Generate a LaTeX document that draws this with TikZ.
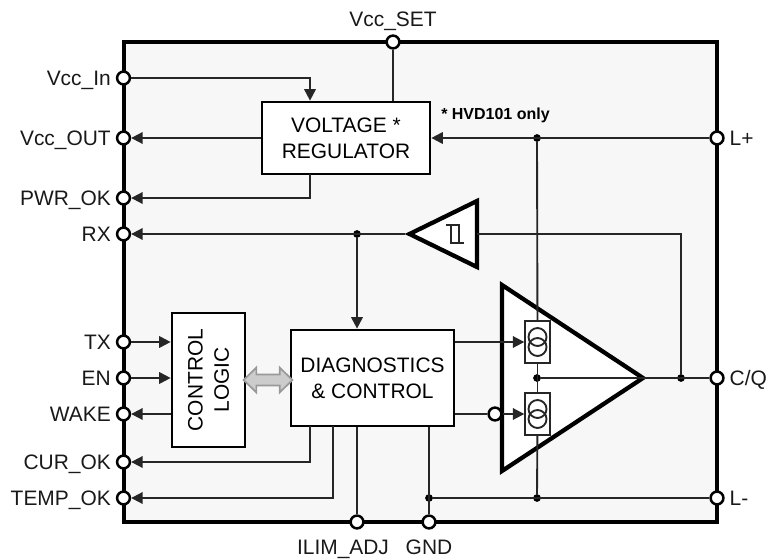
\documentclass[tikz,border=0pt]{standalone}
\usepackage{fontspec}
\setmainfont{Liberation Sans}
\usetikzlibrary{arrows.meta,positioning}
\tikzset{
    >={Triangle[length=8.6pt,width=8.6pt]},
    chipbox/.style={draw=black, fill=chipgray, line width=3pt, line join=miter},
    wire/.style={draw=black!85, line width=1.4pt},
    blockbox/.style={draw=black, fill=white, line width=2pt, inner sep=0pt, align=center, font=\blockfont},
    tribox/.style={draw=black, fill=white, line width=3.2pt, line join=miter},
    pinring/.style={circle, draw=black, fill=white, line width=1.9pt, minimum size=9.6pt, inner sep=0pt},
    pinlabel/.style={inner sep=0pt, text height=11.3pt, text depth=0pt, font=\blockfont, text=black!90},
    dotnode/.style={circle, fill=black, minimum size=5.8pt, inner sep=0pt},
    srcbox/.style={draw=black!85, fill=white, line width=1.4pt, minimum width=18.4pt, minimum height=31.5pt, inner sep=0pt},
    srcline/.style={draw=black!85, line width=1.4pt},
    bidir/.style={draw=midgray, fill=lightblockgray, line width=1.3pt, line join=miter},
}
\definecolor{chipgray}{HTML}{F7F7F7}
\definecolor{midgray}{HTML}{999999}
\definecolor{lightblockgray}{HTML}{CCCCCC}
\newcommand{\blockfont}{\fontsize{15.7}{19}\selectfont}
\begin{document}
\begin{tikzpicture}[x=0.75pt,y=-0.75pt]
    \useasboundingbox (0,0) rectangle (777,559);

    % CHIP OUTLINE
    \draw[chipbox] (123.5,42) rectangle (717,522);

    % TRIANGLES
    \draw[tribox] (502,285) -- (643,378) -- (502,471) -- cycle;
    \draw[tribox] (409.5,234) -- (477,201) -- (477,267) -- cycle;

    % PINS ON THE LEFT
    \foreach \pinname/\pinpos/\pintext in {vccin/78/Vcc\_In, vccout/138/Vcc\_OUT, pwrok/198/PWR\_OK, rx/234/RX, tx/342/TX, en/378/EN, wake/414/WAKE, curok/462/CUR\_OK, tempok/498/TEMP\_OK} {
    \node[pinring] (\pinname) at (123.5,\pinpos) {};
    \node[pinlabel, left=3.6pt of \pinname] (\pinname label) {\pintext};
    }

    % PINS ON THE RIGHT
    \foreach \pinname/\pinpos/\pintext in {lplus/138/L+, cq/378/{C/Q}, lminus/498/L-} {
    \node[pinring] (\pinname) at (717,\pinpos) {};
    \node[pinlabel, right=3.6pt of \pinname] (\pinname label) {\pintext};
    }

    % PINS ON TOP AND BOTTOM
    \node[pinring] (vccset) at (393,42) {};
    \node[pinlabel, above=6pt of vccset] (vccsetlabel) {Vcc\_SET};
    \node[pinring] (ilim) at (357,522) {};
    \node[pinlabel, below=7pt of ilim, xshift=-10.5pt] (ilimlabel) {ILIM\_ADJ};
    \node[pinring] (gnd) at (429,522) {};
    \node[pinlabel, below=7pt of gnd] (gndlabel) {GND};

    % BLOCKS
    \node[blockbox, minimum width=126pt, minimum height=54pt] (reg) at (346,138) {VOLTAGE *\\[0.6pt]REGULATOR};
    \node[blockbox, minimum width=122.25pt, minimum height=72pt] (diag) at (372.5,378) {DIAGNOSTICS\\[0.6pt]\& CONTROL};
    \node[blockbox, minimum width=54.75pt, minimum height=100.5pt] (logic) at (208.5,380) {};
    \node[rotate=90, align=center, inner sep=0pt, font=\blockfont] (logiclabel) at (logic) {CONTROL\\[0.6pt]LOGIC};
    \node[font=\fontsize{12}{14}\selectfont\bfseries, anchor=west, inner sep=0pt] (hvdnote) at (441,115) {* HVD101 only};

    % CURRENT SOURCES
    \node[srcbox] (srctop) at (537.5,342) {};
    \node[srcbox] (srcbot) at (537.5,414) {};
    \foreach \s in {srctop,srcbot} {
    \draw[srcline] ([yshift=3.75pt]\s.center) circle (6.75pt);
    \draw[srcline] ([yshift=-3.75pt]\s.center) circle (6.75pt);
    }

    % JUNCTIONS
    \node[dotnode] (jrx) at (357,234) {};
    \node[dotnode] (jlplus) at (537,138) {};
    \node[dotnode] (jout) at (537,378) {};
    \node[dotnode] (jcq) at (681,378) {};
    \node[dotnode] (jlminus) at (537,498) {};
    \node[dotnode] (jgnd) at (429,498) {};
    \node[pinring] (ring) at (495,414) {};

    % NAMED ENDS
    \coordinate (regtap) at (310,174);
    \coordinate (curtap) at (310,426);
    \coordinate (temptap) at (333,426);
    \coordinate (schin) at (405,234);
    \coordinate (schout) at (477,234);

    % REGULATOR WIRES
    \draw[wire,->] (vccin) -| (regtap |- reg.north);
    \draw[wire,->] (reg.west |- vccout) -- (vccout);
    \draw[wire,->] (regtap) |- (pwrok);
    \draw[wire] (vccset) -- (vccset |- reg.north);
    \draw[wire,->] (lplus) -- (reg.east |- lplus);

    % RX AND SCHMITT
    \draw[wire,->] (schin) -- (rx);
    \draw[wire,->] (jrx) -- (jrx |- diag.north);
    \draw[wire] (jcq) |- (schout);
    \draw[srcline, line width=1pt] (446,225) -- (459,225) -- (459,243);
    \draw[srcline, line width=1pt] (451,225) -- (451,243) -- (464,243);

    % CONTROL LOGIC WIRES
    \draw[wire,->] (tx) -- (logic.west |- tx);
    \draw[wire,->] (en) -- (logic.west |- en);
    \draw[wire,->] (logic.west |- wake) -- (wake);
    \draw[bidir] ([xshift=-2pt]logic.east) -- ++(12.7,-12.5) -- ++(0,7) -- ++(23.3,0) -- ++(0,-7) -- ++(12.7,12.5) -- ++(-12.7,12.5) -- ++(0,-7) -- ++(-23.3,0) -- ++(0,7) -- cycle;

    % DIAGNOSTICS WIRES
    \draw[wire,->] (curtap) |- (curok);
    \draw[wire,->] (temptap) |- (tempok);
    \draw[wire] (ilim) -- (ilim |- diag.south);
    \draw[wire] (gnd) -- (gnd |- diag.south);
    \draw[wire,->] (diag.east |- srctop.west) -- (srctop.west);
    \draw[wire] (diag.east |- ring) -- (ring);
    \draw[wire,->] (ring) -- (srcbot.west);

    % OUTPUT STAGE WIRES
    \draw[wire] (jlplus) -- (srctop);
    \draw[wire] (srctop) -- (srcbot);
    \draw[wire] (srcbot) -- (jlminus);
    \draw[wire] (jout) -- (cq);
    \draw[wire] (lminus) -- (jgnd);

\end{tikzpicture}
\end{document}
